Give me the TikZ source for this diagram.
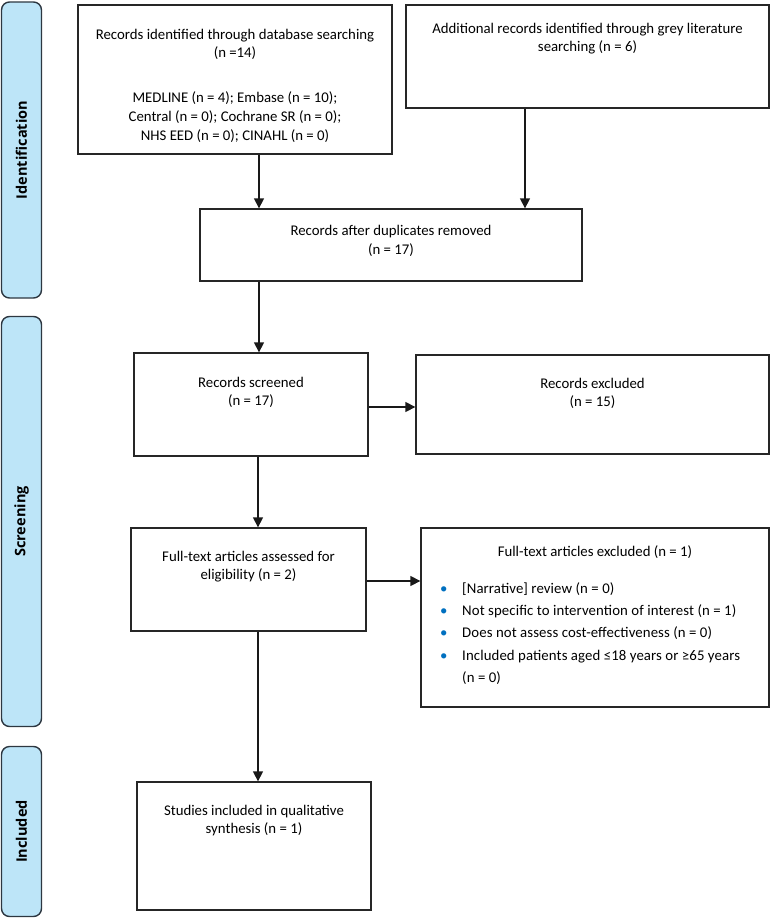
\documentclass[tikz,border=0pt]{standalone}
\usepackage{fontspec}
\setmainfont{Carlito}
\newfontfamily\sidefont{Open Sans}
\newfontfamily\bulletfont[LetterSpace=0.7]{Carlito}
\usetikzlibrary{arrows.meta}
\definecolor{sidefill}{RGB}{189,229,248}
\definecolor{sidedraw}{RGB}{45,55,65}
\definecolor{bulletblue}{RGB}{0,112,192}
\tikzset{
  boxstyle/.style={draw=black!85, line width=1.3pt, inner sep=0pt},
  sidebar/.style={draw=sidedraw, fill=sidefill, line width=1.4pt, rounded corners=8pt, inner sep=0pt},
  sidetext/.style={font=\sidefont\bfseries\fontsize{14.5}{16}\selectfont, rotate=90, inner sep=0pt},
  txt/.style={font=\fontsize{14.8}{18.7}\selectfont, align=center, inner sep=0pt},
  arr/.style={line width=1.3pt, black!90, -{Triangle[length=10pt,width=10pt]}}
}
\begin{document}
\begin{tikzpicture}[x=1pt,y=-1pt]
\useasboundingbox (0,0) rectangle (770,918);
% side bars
\node[sidebar, minimum width=40pt, minimum height=296pt] (sidA) at (21.5,150) {};
\node[sidetext] (sidAt) at (21.5,150) {Identification};
\node[sidebar, minimum width=40pt, minimum height=410pt] (sidB) at (21.5,521.5) {};
\node[sidetext] (sidBt) at (21.5,521.5) {Screening};
\node[sidebar, minimum width=40pt, minimum height=170pt] (sidC) at (21.5,831.5) {};
\node[sidetext] (sidCt) at (21.5,831.5) {Included};
% boxes
\node[boxstyle, minimum width=314pt, minimum height=149pt] (db) at (235,79.5) {};
\node[boxstyle, minimum width=363pt, minimum height=103pt] (grey) at (587.5,56.5) {};
\node[boxstyle, minimum width=382pt, minimum height=72pt] (dup) at (391,245) {};
\node[boxstyle, minimum width=234pt, minimum height=103pt] (scr) at (251,404.5) {};
\node[boxstyle, minimum width=353pt, minimum height=99pt] (exc) at (592.5,404.5) {};
\node[boxstyle, minimum width=235pt, minimum height=103pt] (ft) at (248.5,579.5) {};
\node[boxstyle, minimum width=348pt, minimum height=179pt] (ftx) at (595,617.5) {};
\node[boxstyle, minimum width=234pt, minimum height=128pt] (inc) at (254,846) {};
% texts
\node[txt] (dbt1) at (235,44.5) {Records identified through database searching\\(n =14)};
\node[txt] (dbt2) at (235,117) {MEDLINE (n = 4); Embase (n = 10);\\Central (n = 0); Cochrane SR (n = 0);\\NHS EED (n = 0); CINAHL (n = 0)};
\node[txt] (greyt) at (587.5,38.5) {Additional records identified through grey literature\\searching (n = 6)};
\node[txt] (dupt) at (391,241) {Records after duplicates removed\\(n = 17)};
\node[txt] (scrt) at (251,392.5) {Records screened\\(n = 17)};
\node[txt] (exct) at (592.5,393.5) {Records excluded\\(n = 15)};
\node[txt] (ftt) at (248.5,566.5) {Full-text articles assessed for\\eligibility (n = 2)};
\node[txt] (ftxt) at (595,552) {Full-text articles excluded (n = 1)};
\node[txt, font=\bulletfont\fontsize{14.8}{22.3}\selectfont, align=left, anchor=west] (ftxl) at (440,633.5)
 {\makebox[22pt][l]{\textcolor{bulletblue}{\textbullet}}[Narrative] review (n = 0)\\
  \makebox[22pt][l]{\textcolor{bulletblue}{\textbullet}}Not specific to intervention of interest (n = 1)\\
  \makebox[22pt][l]{\textcolor{bulletblue}{\textbullet}}Does not assess cost-effectiveness (n = 0)\\
  \makebox[22pt][l]{\textcolor{bulletblue}{\textbullet}}Included patients aged ≤18 years or ≥65 years\\
  \hspace*{22pt}(n = 0)};
\node[txt] (inct) at (254,820.5) {Studies included in qualitative\\synthesis (n = 1)};
% arrow columns
\coordinate (c1) at (259,0);
\coordinate (c2) at (525,0);
\coordinate (c3) at (258,0);
\coordinate (r1) at (0,407);
\coordinate (r2) at (0,581);
% connectors
\draw[arr] (db.south -| c1) -- (dup.north -| c1);
\draw[arr] (grey.south -| c2) -- (dup.north -| c2);
\draw[arr] (dup.south -| c1) -- (scr.north -| c1);
\draw[arr] (scr.east |- r1) -- (exc.west |- r1);
\draw[arr] (scr.south -| c3) -- (ft.north -| c3);
\draw[arr] (ft.east |- r2) -- (ftx.west |- r2);
\draw[arr] (ft.south -| c3) -- (inc.north -| c3);
\end{tikzpicture}
\end{document}
